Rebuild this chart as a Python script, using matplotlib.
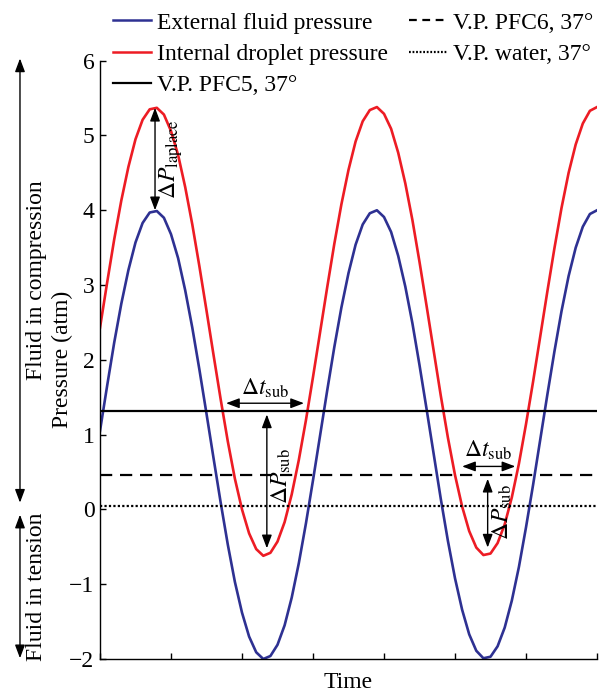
import numpy as np
import matplotlib
matplotlib.use("Agg")
import matplotlib.pyplot as plt
from matplotlib.lines import Line2D

plt.rcParams['font.family'] = ['Liberation Serif', 'DejaVu Serif']
plt.rcParams['mathtext.fontset'] = 'stix'
plt.rcParams['font.size'] = 17

# ---------------------------------------------------------------------------
# Data (time in tick units, pressure in atm)
# ---------------------------------------------------------------------------
time = np.round(np.arange(71) * 0.1, 1)

p_external = [1.05, 1.65, 2.23, 2.75, 3.20, 3.57, 3.83, 3.97, 3.99, 3.90,
              3.68, 3.36, 2.93, 2.43, 1.87, 1.28, 0.68, 0.09, -0.47, -0.97,
              -1.38, -1.70, -1.91, -2.00, -1.96, -1.81, -1.55, -1.18, -0.72, -0.19,
              0.39, 0.99, 1.59, 2.17, 2.70, 3.16, 3.54, 3.81, 3.96, 4.00,
              3.91, 3.71, 3.39, 2.98, 2.49, 1.93, 1.34, 0.74, 0.14, -0.42,
              -0.92, -1.34, -1.67, -1.89, -1.99, -1.97, -1.83, -1.58, -1.22, -0.77,
              -0.24, 0.33, 0.93, 1.53, 2.11, 2.65, 3.12, 3.50, 3.78, 3.95,
              4.00]

p_internal = [2.43, 3.03, 3.61, 4.13, 4.58, 4.95, 5.21, 5.35, 5.37, 5.28,
              5.06, 4.74, 4.31, 3.81, 3.25, 2.66, 2.06, 1.47, 0.91, 0.41,
              0.00, -0.32, -0.53, -0.62, -0.58, -0.43, -0.17, 0.20, 0.66, 1.19,
              1.77, 2.37, 2.97, 3.55, 4.08, 4.54, 4.92, 5.19, 5.34, 5.38,
              5.29, 5.09, 4.77, 4.36, 3.87, 3.31, 2.72, 2.12, 1.52, 0.96,
              0.46, 0.04, -0.29, -0.51, -0.61, -0.59, -0.45, -0.20, 0.16, 0.61,
              1.14, 1.71, 2.31, 2.91, 3.49, 4.03, 4.50, 4.88, 5.16, 5.33,
              5.38]

vp_pfc5 = 1.31
vp_pfc6 = 0.46
vp_water = 0.05

y_ticks = [-2, -1, 0, 1, 2, 3, 4, 5, 6]
x_ticks = [0, 1, 2, 3, 4, 5, 6, 7]

BLUE = '#2E3192'
RED = '#ED1C24'

fig = plt.figure(figsize=(6.06, 6.92), dpi=100)
ax = fig.add_axes([100 / 606, 1 - 659 / 692, 497 / 606, (659 - 60.7) / 692])

ax.plot(time, p_external, color=BLUE, lw=1.9, solid_joinstyle='round')
ax.plot(time, p_internal, color=RED, lw=1.9, solid_joinstyle='round')
ax.axhline(vp_pfc5, color='black', lw=1.6)
ax.axhline(vp_pfc6, color='black', lw=1.6, ls=(0, (5.5, 3.5)))
ax.axhline(vp_water, color='black', lw=1.6, ls=(0, (1, 1)))

ax.set_xlim(0, 7)
ax.set_ylim(-2, 6)
ax.set_yticks(y_ticks)
ax.set_xticks(x_ticks)
ax.set_xticklabels([])
ax.tick_params(direction='in', length=4, width=1, pad=4)
for s in ['top', 'right']:
    ax.spines[s].set_visible(False)
for s in ['left', 'bottom']:
    ax.spines[s].set_linewidth(1.0)

ax.set_xlabel('Time', labelpad=5)
ax.set_ylabel('Pressure (atm)', va='center')
ax.yaxis.set_label_coords(-0.0765, 0.5)

# ---------------------------------------------------------------------------
# Annotations
# ---------------------------------------------------------------------------
arrow = dict(arrowstyle='<|-|>,head_length=0.8,head_width=0.3',
             color='black', lw=1.0, shrinkA=0, shrinkB=0, mutation_scale=10)

def darrow(p1, p2, coords='data'):
    ax.annotate('', xy=p1, xytext=p2, xycoords=coords, textcoords=coords,
                arrowprops=arrow, annotation_clip=False)

# Laplace pressure
darrow((0.775, 4.0), (0.775, 5.37))
ax.text(1.0, 4.68, r'$\Delta P_{\mathrm{laplace}}$', rotation=90,
        ha='center', va='center')

# first sub-saturation window (PFC5)
darrow((1.775, 1.42), (2.873, 1.42))
ax.text(2.32, 1.62, r'$\Delta t_{\mathrm{sub}}$', ha='center', va='center')
darrow((2.35, 1.27), (2.35, -0.52))
ax.text(2.56, 0.45, r'$\Delta P_{\mathrm{sub}}$', rotation=90,
        ha='center', va='center')

# second sub-saturation window (PFC6)
darrow((5.10, 0.575), (5.85, 0.575))
ax.text(5.46, 0.79, r'$\Delta t_{\mathrm{sub}}$', ha='center', va='center')
darrow((5.46, 0.41), (5.46, -0.51))
ax.text(5.67, -0.04, r'$\Delta P_{\mathrm{sub}}$', rotation=90,
        ha='center', va='center')

# compression / tension arrows at the left
mixed = ('axes fraction', 'data')
darrow((-0.161, 6.03), (-0.161, 0.09), coords=mixed)
darrow((-0.161, -0.07), (-0.161, -1.99), coords=mixed)
ax.text(-0.128, 3.06, 'Fluid in compression', rotation=90, ha='center',
        va='center', transform=ax.get_yaxis_transform())
ax.text(-0.128, -1.03, 'Fluid in tension', rotation=90, ha='center',
        va='center', transform=ax.get_yaxis_transform())

# ---------------------------------------------------------------------------
# Legend
# ---------------------------------------------------------------------------
handles = [
    Line2D([], [], color=BLUE, lw=1.8),
    Line2D([], [], color=RED, lw=1.8),
    Line2D([], [], color='black', lw=1.6),
    Line2D([], [], color='black', lw=1.6, ls=(0, (3.5, 2.5))),
    Line2D([], [], color='black', lw=1.6, ls=(0, (0.8, 0.8))),
]
labels = ['External fluid pressure', 'Internal droplet pressure',
          'V.P. PFC5, 37°', 'V.P. PFC6, 37°', 'V.P. water, 37°']
fig.legend(handles, labels, ncol=2, loc='upper left',
           bbox_to_anchor=(113 / 606, 1 - 12 / 692), frameon=False,
           borderpad=0, borderaxespad=0, handlelength=1.6,
           handletextpad=0.25, columnspacing=0.9, labelspacing=0.42)

fig.savefig('out.png', dpi=100)
